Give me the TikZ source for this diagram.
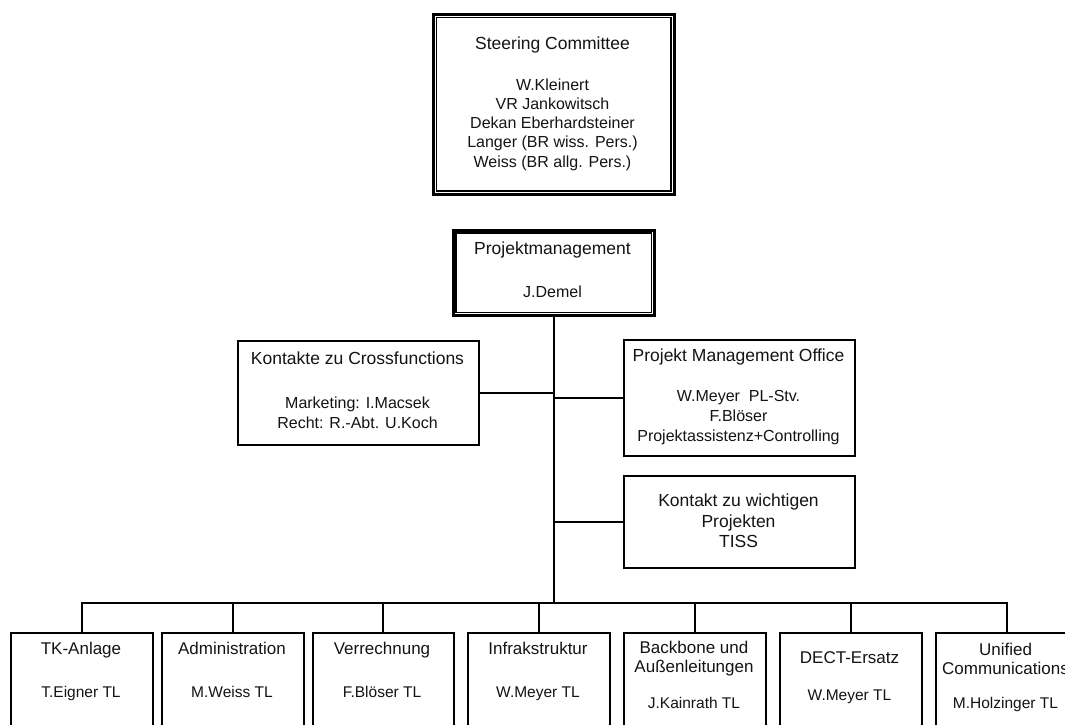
\documentclass[tikz,border=0pt]{standalone}
\usepackage{fontspec}
\setmainfont{Liberation Sans}
\begin{document}
\begin{tikzpicture}[x=1pt,y=-1pt,
  box/.style={draw=black, line width=2pt, fill=white, inner sep=0pt, anchor=north west},
  framebox/.style={box, line width=2.6pt},
  conn/.style={draw=black, line width=2pt},
  ttl/.style={font=\fontsize{17.5}{20.5}\selectfont, text=black!92, inner sep=0pt, align=center},
  body/.style={font=\fontsize{16}{19.5}\selectfont, text=black!92, inner sep=0pt, align=center},
  oneline/.style={text height=12.4pt, text depth=3.4pt},
  unit/.style={font=\fontsize{17}{19}\selectfont, text=black!92, inner sep=0pt, align=center},
  lead/.style={font=\fontsize{15.5}{18}\selectfont, text=black!92, inner sep=0pt, text height=11pt, text depth=3pt},
  unitbox/.style={box, minimum width=141.5pt, minimum height=130pt},
]
\useasboundingbox (0,0) rectangle (1065,724);
\clip (0,0) rectangle (1065,724);
\fill[white] (0,0) rectangle (1065,724);

% --- Steering Committee (framed twice) ---
\node[framebox, minimum width=241pt, minimum height=180pt] (sc) at (432,13) {};
\draw[line width=1.4pt] ([xshift=4.5pt,yshift=-4.5pt]sc.north west) rectangle ([xshift=-4.5pt,yshift=4.5pt]sc.south east);
\node[ttl, oneline] (sct) at (552.5,45) {Steering Committee};
\node[body, font=\fontsize{16}{19.2}\selectfont] (scm) at (552.5,124.5) {W.Kleinert\\VR Jankowitsch\\Dekan Eberhardsteiner\\Langer (BR wiss. Pers.)\\Weiss (BR allg. Pers.)};

% --- Projektmanagement (framed twice) ---
\node[framebox, minimum width=201pt, minimum height=85pt] (pm) at (452,229) {};
\draw[line width=1.4pt] ([xshift=4pt,yshift=-4pt]pm.north west) rectangle ([xshift=-4pt,yshift=4pt]pm.south east);
\node[ttl, oneline] (pmt) at (552.5,250) {Projektmanagement};
\node[body, text height=11.5pt, text depth=3.2pt] (pmm) at (552.5,293) {J.Demel};

% --- staff boxes ---
\node[box, minimum width=241pt, minimum height=104pt] (kc) at (237,340) {};
\node[ttl, oneline] (kct) at (357.5,360) {Kontakte zu Crossfunctions};
\node[body, font=\fontsize{16}{20}\selectfont] (kcm) at (357.5,413) {Marketing: I.Macsek\\Recht: R.-Abt. U.Koch};

\node[box, minimum width=231pt, minimum height=116pt] (pmo) at (623,339) {};
\node[ttl, oneline] (pmot) at (738.5,357) {Projekt Management Office};
\node[body, font=\fontsize{16}{20}\selectfont] (pmom) at (738.5,418) {W.Meyer\ \ PL-Stv.\\F.Blöser\\Projektassistenz+Controlling};

\node[box, minimum width=231pt, minimum height=92pt] (kp) at (623,475) {};
\node[ttl, font=\fontsize{17.5}{20.5}\selectfont] (kpt) at (738.5,521) {Kontakt zu wichtigen\\Projekten\\TISS};

% --- project units ---
\node[unitbox] (u1) at (10.3,632) {};
\node[unitbox] (u2) at (161,632) {};
\node[unitbox] (u3) at (311.6,632) {};
\node[unitbox] (u4) at (467,632) {};
\node[unitbox] (u5) at (623,632) {};
\node[unitbox] (u6) at (779,632) {};
\node[unitbox] (u7) at (935,632) {};

\node[unit, oneline] (u1t) at (81,650) {TK-Anlage};
\node[lead] (u1m) at (81,693) {T.Eigner TL};
\node[unit, oneline] (u2t) at (232,650) {Administration};
\node[lead] (u2m) at (232,693) {M.Weiss TL};
\node[unit, oneline] (u3t) at (382,650) {Verrechnung};
\node[lead] (u3m) at (382,693) {F.Blöser TL};
\node[unit, oneline] (u4t) at (538,650) {Infrakstruktur};
\node[lead] (u4m) at (538,693) {W.Meyer TL};
\node[unit] (u5t) at (694,659) {Backbone und\\Außenleitungen};
\node[lead] (u5m) at (694,704) {J.Kainrath TL};
\node[unit, oneline] (u6t) at (849.5,659) {DECT-Ersatz};
\node[lead] (u6m) at (849.5,696) {W.Meyer TL};
\node[unit] (u7t) at (1005.5,659) {Unified\\Communications};
\node[lead] (u7m) at (1005.5,704) {M.Holzinger TL};

% --- connectors ---
\coordinate (bus) at (553,603);
\draw[conn] (pm.south) -- (pm.south |- bus);
\draw[conn] (kc.east) -- (kc.east -| pm.south);
\draw[conn] (pmo.west) -- (pmo.west -| pm.south);
\draw[conn] (kp.west) -- (kp.west -| pm.south);
\draw[conn] (u1.north) -- (u1.north |- bus) -- (u7.north |- bus) -- (u7.north);
\foreach \u in {u2,u3,u4,u5,u6}
  \draw[conn] (\u.north) -- (\u.north |- bus);
\end{tikzpicture}
\end{document}
